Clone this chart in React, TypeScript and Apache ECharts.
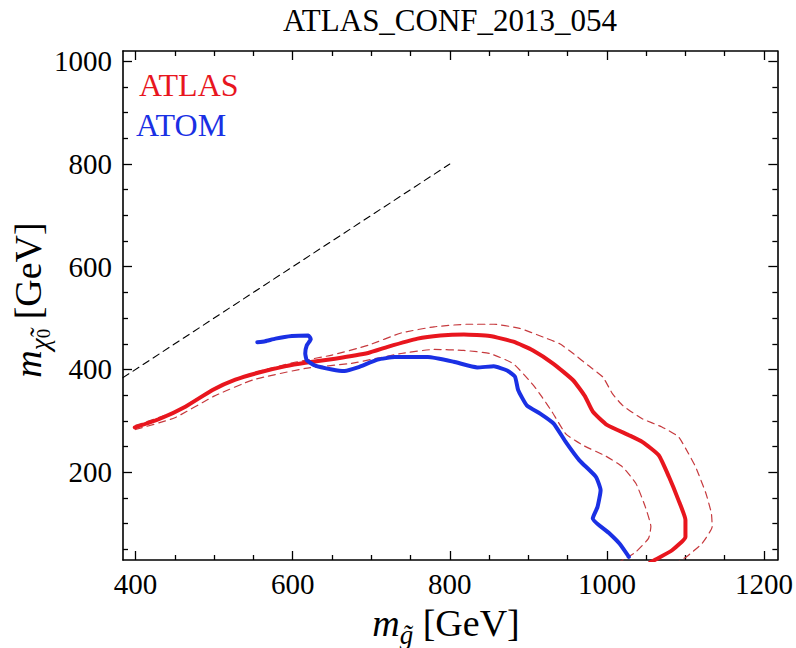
import React, { useEffect, useRef } from 'react';
import * as echarts from 'echarts';

const FONT = '"Liberation Serif", "Times New Roman", serif';

const xMajor = [400, 600, 800, 1000, 1200];
const xMinor = [450, 500, 550, 650, 700, 750, 850, 900, 950, 1050, 1100, 1150];
const yMajor = [200, 400, 600, 800, 1000];
const yMinor = [50, 100, 150, 250, 300, 350, 450, 500, 550, 650, 700, 750, 850, 900, 950];

const xRange = [384, 1217];
const yRange = [29, 1020];

const diagLine = [[384, 384], [800, 800]];

const atlasSolid = [
  [399, 287], [431, 304], [464, 328], [498, 360], [527, 380], [557, 394], [590, 406], [616, 413],
  [654, 421], [696, 432], [721, 444], [759, 460], [788, 466], [818, 468], [851, 465], [881, 454],
  [906, 437], [932, 411], [957, 379], [972, 348], [982, 318], [1000, 292], [1028, 272], [1045, 259],
  [1066, 233], [1079, 191], [1091, 146], [1100, 107], [1100, 74], [1083, 48], [1062, 30], [1055, 24]
];

const atlasUpper = [
  [400, 291], [450, 318], [500, 362], [550, 393], [600, 413], [650, 428], [696, 447], [738, 471],
  [780, 483], [822, 488], [856, 488], [889, 480], [919, 463], [940, 450], [958, 430], [976, 408],
  [995, 385], [1007, 353], [1020, 330], [1045, 304], [1070, 288], [1091, 269], [1104, 236], [1113, 210],
  [1126, 159], [1133, 120], [1134, 94], [1121, 61], [1101, 35], [1090, 25]
];

const atlasLower = [
  [400, 283], [450, 306], [500, 348], [550, 380], [616, 402], [675, 412], [738, 431], [780, 439],
  [818, 437], [851, 431], [881, 411], [906, 370], [918, 345], [930, 318], [948, 274], [970, 252],
  [999, 231], [1020, 210], [1037, 178], [1049, 132], [1056, 94], [1053, 71], [1037, 45], [1024, 32],
  [1015, 25]
];

const atomLine = [
  [555, 453], [565, 455], [578, 460], [599, 465], [620, 466], [623, 459], [618, 447], [616, 431],
  [618, 418], [628, 408], [650, 400], [666, 397], [683, 404], [708, 419], [730, 424], [772, 424],
  [805, 415], [835, 404], [856, 406], [873, 398], [883, 386], [887, 360], [898, 330], [915, 314],
  [932, 295], [948, 258], [965, 223], [986, 191], [992, 165], [988, 132], [982, 110], [1003, 81],
  [1016, 61], [1028, 35]
];

const titleText = 'ATLAS_CONF_2013_054';
const legendNames = ['ATLAS', 'ATOM'];

const RED = '#e8161e';
const BLUE = '#1a30e4';
const DASHRED = '#c63a3e';

const fmt = (v: number) => String(Math.round(v));

function makeX(position: 'bottom' | 'top', major: boolean, labels: boolean) {
  return {
    type: 'value',
    position,
    min: xRange[0],
    max: xRange[1],
    splitLine: { show: false },
    axisLine: { show: major, onZero: false, lineStyle: { color: '#000', width: 1.6 } },
    axisTick: {
      show: true,
      inside: true,
      length: major ? 9 : 5,
      customValues: major ? xMajor : xMinor,
      lineStyle: { color: '#000', width: 1.3 }
    },
    axisLabel: {
      show: labels,
      customValues: xMajor,
      formatter: fmt,
      fontFamily: FONT,
      fontSize: 29,
      color: '#000',
      margin: 9
    }
  };
}

function makeY(position: 'left' | 'right', major: boolean, labels: boolean) {
  return {
    type: 'value',
    position,
    min: yRange[0],
    max: yRange[1],
    splitLine: { show: false },
    axisLine: { show: major, onZero: false, lineStyle: { color: '#000', width: 1.6 } },
    axisTick: {
      show: true,
      inside: true,
      length: major ? 9 : 5,
      customValues: major ? yMajor : yMinor,
      lineStyle: { color: '#000', width: 1.3 }
    },
    axisLabel: {
      show: labels,
      customValues: yMajor,
      formatter: fmt,
      fontFamily: FONT,
      fontSize: 29,
      color: '#000',
      margin: 11
    }
  };
}

export default function App() {
  const ref = useRef<HTMLDivElement>(null);
  useEffect(() => {
    const chart = echarts.init(ref.current!, null, { renderer: 'svg' });
    const line = (data: number[][], color: string, width: number, type: any, z = 2) => ({
      type: 'line',
      data,
      xAxisIndex: 0,
      yAxisIndex: 0,
      showSymbol: false,
      symbol: 'none',
      smooth: 0.15,
      clip: true,
      z,
      lineStyle: { color, width, type, cap: 'round', join: 'round' }
    });
    const sub = { fontFamily: FONT, fontStyle: 'italic', fill: '#000' };
    const option: any = {
      animation: false,
      backgroundColor: '#fff',
      grid: { left: 123, right: 13, top: 51, bottom: 88, containLabel: false },
      xAxis: [
        makeX('bottom', true, true),
        makeX('bottom', false, false),
        makeX('top', true, false),
        makeX('top', false, false)
      ],
      yAxis: [
        makeY('left', true, true),
        makeY('left', false, false),
        makeY('right', true, false),
        makeY('right', false, false)
      ],
      series: [
        { ...line(diagLine, '#000', 1.1, [7, 5], 1), smooth: false },
        line(atlasUpper, DASHRED, 1.2, [7, 5], 2),
        line(atlasLower, DASHRED, 1.2, [7, 5], 2),
        line(atlasSolid, RED, 4, 'solid', 3),
        line(atomLine, BLUE, 4, 'solid', 4)
      ],
      graphic: [
        {
          type: 'text',
          x: 450,
          y: 20,
          style: {
            text: titleText,
            fontFamily: FONT,
            fontSize: 31,
            fill: '#000',
            align: 'center',
            verticalAlign: 'middle'
          }
        },
        {
          type: 'text',
          x: 139,
          y: 85,
          style: {
            text: legendNames[0],
            fontFamily: FONT,
            fontSize: 32,
            fill: RED,
            align: 'left',
            verticalAlign: 'middle'
          }
        },
        {
          type: 'text',
          x: 136,
          y: 125,
          style: {
            text: legendNames[1],
            fontFamily: FONT,
            fontSize: 32,
            fill: BLUE,
            align: 'left',
            verticalAlign: 'middle'
          }
        },
        {
          type: 'text',
          x: 446,
          y: 623,
          style: {
            text: '{m|m}{s|g\u0303}{n| [GeV]}',
            align: 'center',
            verticalAlign: 'middle',
            fill: '#000',
            rich: {
              m: { ...sub, fontSize: 38, lineHeight: 50, verticalAlign: 'middle' },
              s: { ...sub, fontSize: 27, lineHeight: 32, verticalAlign: 'bottom' },
              n: { fontFamily: FONT, fontSize: 38, lineHeight: 50, verticalAlign: 'middle', fill: '#000' }
            }
          }
        },
        {
          type: 'text',
          x: 28,
          y: 300,
          rotation: Math.PI / 2,
          style: {
            text: '{m|m}{s|\u03C7\u0303}{z|0}{n| [GeV]}',
            align: 'center',
            verticalAlign: 'middle',
            fill: '#000',
            rich: {
              m: { ...sub, fontSize: 38, lineHeight: 50, verticalAlign: 'middle' },
              s: { ...sub, fontSize: 27, lineHeight: 32, verticalAlign: 'bottom' },
              z: { fontFamily: FONT, fontSize: 19, lineHeight: 19, verticalAlign: 'bottom', fill: '#000' },
              n: { fontFamily: FONT, fontSize: 38, lineHeight: 50, verticalAlign: 'middle', fill: '#000' }
            }
          }
        }
      ]
    };
    chart.setOption(option);
    return () => chart.dispose();
  }, []);
  return (
    <div
      ref={ref}
      style={{ position: 'fixed', left: 0, top: 0, width: 796, height: 648 }}
    />
  );
}
